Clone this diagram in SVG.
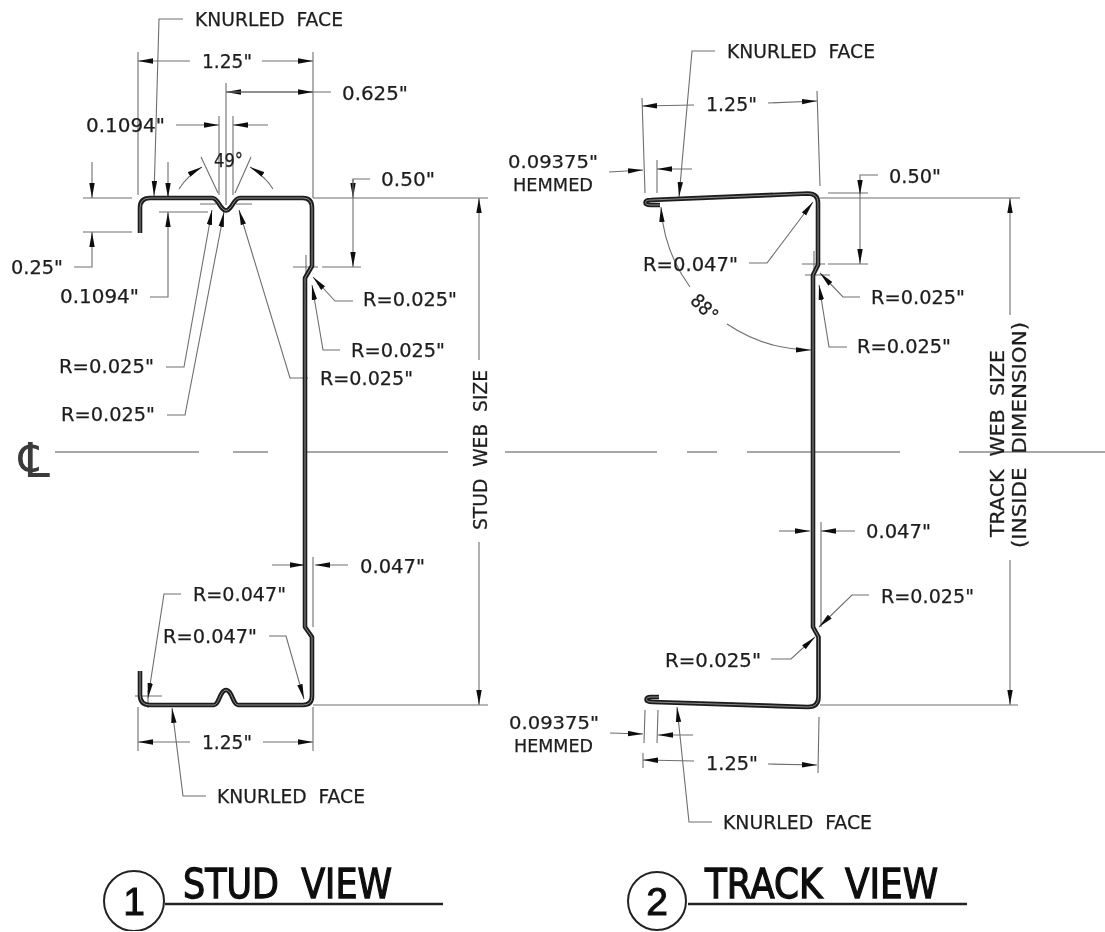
<svg xmlns="http://www.w3.org/2000/svg" width="1105" height="932" viewBox="0 0 1105 932">
<style>
text{font-family:"DejaVu Sans","Liberation Sans",sans-serif;font-size:19px;fill:#1e1e1e;stroke:#1e1e1e;stroke-width:.25px;white-space:pre}
.s{font-size:18px}
.h{font-size:40px;stroke:#111;stroke-width:1.3px;fill:#111}
.n{font-family:"Liberation Sans",sans-serif;font-size:39px;stroke:#111;stroke-width:1px;fill:#111;text-anchor:middle}
.cl{font-size:48px;stroke-width:0;fill:#3a3a3a}
.l{fill:none;stroke:#6e6e6e;stroke-width:1.1}
.a{fill:none;stroke:#6e6e6e;stroke-width:1.1;marker-end:url(#arr)}
.c{fill:none;stroke:#8a8a8a;stroke-width:1.4}
.o{fill:none;stroke:#1e1e1e;stroke-width:4.6;stroke-linejoin:round}
.i{fill:none;stroke:#8c8c8c;stroke-width:1}
.u{fill:none;stroke:#222;stroke-width:2.6}
.b{fill:#fff;stroke:#222;stroke-width:2}
</style>
<defs>
<filter id="soft" x="0" y="0" width="100%" height="100%"><feGaussianBlur stdDeviation="0.45"/></filter>
<marker id="arr" markerUnits="userSpaceOnUse" markerWidth="15" markerHeight="6" refX="15" refY="3" orient="auto"><path d="M0 0.3L15 3L0 5.7Z" fill="#111"/></marker>
<path id="studP" d="M140 233V208Q140 198 150 198H212C217 198 219 205 222 208Q226 213 230 208C233 205 235 198 240 198H303Q312 198 312 208V266L305 278V627L312 637V696Q312 705 303 705H238C233 705 232 690 226 690C220 690 219 705 214 705H150Q140 705 140 695V671"/>
<path id="trackP" d="M660 205H651Q645.500 205 645.500 202.500Q645.500 200 651 200L808 193.500Q818 193.500 818 203V265L813 275V627L818.500 637V697Q818.500 707 808 707L653 702Q646.500 702 646.500 699.500Q646.500 697 651 697H659"/>
</defs>
<g filter="url(#soft)">
<g id="centerline">
<path class="c" d="M55 452H199M233 452H268M305 452H448M505 452H657M687 452H717M747 452H900M959 452H1105"/>
<text class="cl" x="19" y="477">℄</text>
</g>
<g id="connectors">
<path class="l" d="M138 52V195M313 52V198M226 83V205M219 116V195M233 116V195M83 198H132M83 232H132M159 212H208M313 198H488M322 267H361M293 267H318M306 255V280M200 204H216M236 204H252"/>
<path class="a" d="M190 61H138"/><path class="a" d="M262 61H313"/>
<path class="a" d="M183 19H159L154 196"/>
<path class="a" d="M331 92H226"/><path class="a" d="M226 92H313"/>
<path class="a" d="M176 125H219"/><path class="a" d="M268 125H233"/>
<path class="l" d="M201 157L218 193M251 157L235 193"/>
<path class="a" d="M179 189Q188 175 202 167"/><path class="a" d="M273 189Q264 175 250 167"/>
<path class="a" d="M92 162V198"/><path class="a" d="M74 267H92V232"/>
<path class="a" d="M168 162V198"/><path class="a" d="M150 297H168V212"/>
<path class="a" d="M370 179H353V198"/><path class="a" d="M353 198V267"/><path class="l" d="M353 179V198"/>
<path class="a" d="M353 301H335L313 277"/>
<path class="a" d="M340 350H323L312 285"/>
<path class="a" d="M308 378H290L239 210"/>
<path class="a" d="M166 367H184L212 210"/>
<path class="a" d="M167 415H185L224 212"/>
<path class="a" d="M479 360V198"/><path class="a" d="M479 542V705"/>
<path class="l" d="M313 557V627M313 707V751M138 707V751M313 705H488M135 696H162M148 690V708"/>
<path class="a" d="M272 565H305"/><path class="a" d="M348 565H315"/>
<path class="a" d="M181 594H164L148 698"/>
<path class="a" d="M269 636H286L304 699"/>
<path class="a" d="M190 742H138"/><path class="a" d="M263 742H313"/>
<path class="a" d="M206 796H183L172 708"/>
<path class="l" d="M642 98L645 193M817 91L820 186M657 160V193M820 198H1020M828 193H868M828 264H868M802 264H825M814 251V280M805 275H830"/>
<path class="a" d="M715 51H692L679 197"/>
<path class="a" d="M694 105L642 106"/><path class="a" d="M768 103L817 101"/>
<path class="a" d="M609 172L643 170"/><path class="a" d="M692 169H657"/>
<path class="a" d="M878 175H860V195"/><path class="a" d="M860 195V264"/>
<path class="a" d="M749 263H767L813 202"/>
<path class="a" d="M860 297H843L820 273"/>
<path class="a" d="M847 347H829L819 285"/>
<path class="a" d="M690 287A152 152 0 0 1 661 207"/>
<path class="a" d="M727 324A152 152 0 0 0 811 350"/>
<path class="a" d="M1010 315V198"/><path class="a" d="M1010 560V705"/>
<path class="l" d="M821 522V627M645 710L644 743M658 710L657 743M643 753V768M819 717L818 773M820 705H1018"/>
<path class="a" d="M779 531H810"/><path class="a" d="M855 531H821"/>
<path class="a" d="M869 595H852L819 627"/>
<path class="a" d="M771 659H791L815 637"/>
<path class="a" d="M610 733L643 734"/><path class="a" d="M693 735H658"/>
<path class="a" d="M694 761L643 760"/><path class="a" d="M768 764L817 765"/>
<path class="a" d="M712 822H689L677 707"/>
</g>
<g id="stud-profile"><use href="#studP" class="o"/><use href="#studP" class="i"/></g>
<g id="track-profile"><use href="#trackP" class="o"/><use href="#trackP" class="i"/></g>
<g id="stud-labels">
<text x="195" y="26" textLength="148" lengthAdjust="spacingAndGlyphs">KNURLED  FACE</text>
<text x="202" y="68" textLength="50" lengthAdjust="spacingAndGlyphs">1.25"</text>
<text x="342" y="100" textLength="66" lengthAdjust="spacingAndGlyphs">0.625"</text>
<text x="86" y="132" textLength="79" lengthAdjust="spacingAndGlyphs">0.1094"</text>
<text x="214" y="167" textLength="29" lengthAdjust="spacingAndGlyphs">49°</text>
<text x="381" y="186" textLength="54" lengthAdjust="spacingAndGlyphs">0.50"</text>
<text x="11" y="274" textLength="52" lengthAdjust="spacingAndGlyphs">0.25"</text>
<text x="60" y="303" textLength="79" lengthAdjust="spacingAndGlyphs">0.1094"</text>
<text x="363" y="306" textLength="94" lengthAdjust="spacingAndGlyphs">R=0.025"</text>
<text x="351" y="357" textLength="94" lengthAdjust="spacingAndGlyphs">R=0.025"</text>
<text x="320" y="385" textLength="93" lengthAdjust="spacingAndGlyphs">R=0.025"</text>
<text x="59" y="373" textLength="95" lengthAdjust="spacingAndGlyphs">R=0.025"</text>
<text x="61" y="421" textLength="94" lengthAdjust="spacingAndGlyphs">R=0.025"</text>
<text x="360" y="573" textLength="65" lengthAdjust="spacingAndGlyphs">0.047"</text>
<text x="193" y="601" textLength="93" lengthAdjust="spacingAndGlyphs">R=0.047"</text>
<text x="163" y="643" textLength="94" lengthAdjust="spacingAndGlyphs">R=0.047"</text>
<text x="202" y="749" textLength="50" lengthAdjust="spacingAndGlyphs">1.25"</text>
<text x="217" y="803" textLength="148" lengthAdjust="spacingAndGlyphs">KNURLED  FACE</text>
<text transform="rotate(-90 487 530)" x="487" y="530" textLength="160" lengthAdjust="spacingAndGlyphs">STUD  WEB  SIZE</text>
</g>
<g id="track-labels">
<text x="727" y="58" textLength="148" lengthAdjust="spacingAndGlyphs">KNURLED  FACE</text>
<text x="706" y="111" textLength="51" lengthAdjust="spacingAndGlyphs">1.25"</text>
<text class="s" x="508" y="168" textLength="90" lengthAdjust="spacingAndGlyphs">0.09375"</text>
<text class="s" x="513" y="191" textLength="80" lengthAdjust="spacingAndGlyphs">HEMMED</text>
<text x="889" y="183" textLength="52" lengthAdjust="spacingAndGlyphs">0.50"</text>
<text x="643" y="271" textLength="95" lengthAdjust="spacingAndGlyphs">R=0.047"</text>
<text x="871" y="304" textLength="94" lengthAdjust="spacingAndGlyphs">R=0.025"</text>
<text x="857" y="353" textLength="94" lengthAdjust="spacingAndGlyphs">R=0.025"</text>
<text transform="rotate(45 697 301)" x="692" y="307" textLength="30" lengthAdjust="spacingAndGlyphs">88°</text>
<text x="866" y="538" textLength="65" lengthAdjust="spacingAndGlyphs">0.047"</text>
<text x="881" y="603" textLength="93" lengthAdjust="spacingAndGlyphs">R=0.025"</text>
<text x="665" y="667" textLength="96" lengthAdjust="spacingAndGlyphs">R=0.025"</text>
<text class="s" x="509" y="729" textLength="90" lengthAdjust="spacingAndGlyphs">0.09375"</text>
<text class="s" x="514" y="752" textLength="79" lengthAdjust="spacingAndGlyphs">HEMMED</text>
<text x="706" y="770" textLength="52" lengthAdjust="spacingAndGlyphs">1.25"</text>
<text x="723" y="829" textLength="149" lengthAdjust="spacingAndGlyphs">KNURLED  FACE</text>
<text transform="rotate(-90 1004 537)" x="1004" y="537" textLength="187" lengthAdjust="spacingAndGlyphs">TRACK  WEB  SIZE</text>
<text transform="rotate(-90 1026 548)" x="1026" y="548" textLength="226" lengthAdjust="spacingAndGlyphs">(INSIDE  DIMENSION)</text>
</g>
<g id="stud-title">
<path class="u" d="M165 904H443"/>
<circle class="b" cx="134" cy="901" r="30"/>
<text class="n" x="134" y="915">1</text>
<text class="h" x="183" y="898" textLength="209" lengthAdjust="spacingAndGlyphs">STUD  VIEW</text>
</g>
<g id="track-title">
<path class="u" d="M688 904H967"/>
<circle class="b" cx="657" cy="901" r="29"/>
<text class="n" x="657" y="915">2</text>
<text class="h" x="705" y="898" textLength="233" lengthAdjust="spacingAndGlyphs">TRACK  VIEW</text>
</g>
</g>
</svg>
